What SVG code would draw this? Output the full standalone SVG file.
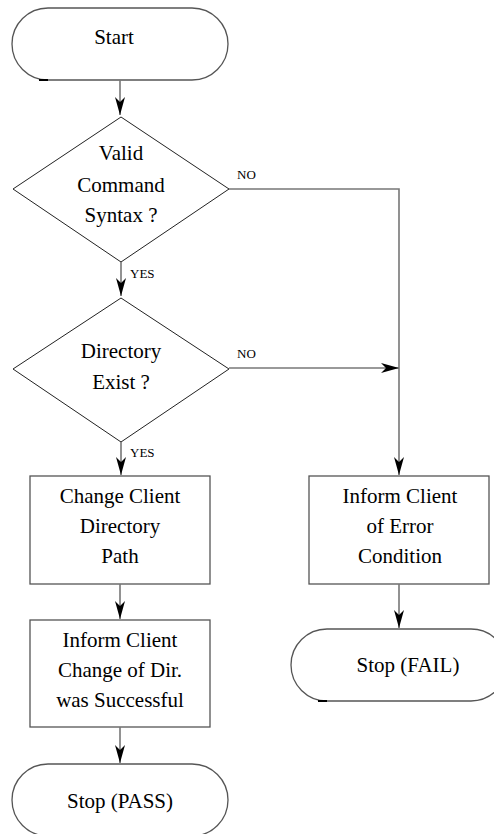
<svg xmlns="http://www.w3.org/2000/svg" width="494" height="834" viewBox="0 0 494 834">
  <style>
    text { font-family: "Liberation Serif", "Times New Roman", serif; fill: #000; text-anchor: middle; }
    .t { font-size: 21px; }
    .lbl { font-size: 13px; text-anchor: start; }
    .term, .box { fill: none; stroke: #555; stroke-width: 1.3; }
    .dec { fill: none; stroke: #222; stroke-width: 1; }
    .conn { fill: none; stroke: #777; stroke-width: 1.6; }
    .nib { stroke: #000; stroke-width: 2; }
  </style>
  <defs>
    <marker id="arrow" markerUnits="userSpaceOnUse" markerWidth="18" markerHeight="10" refX="18" refY="5" orient="auto">
      <path d="M0,0 L18,5 L0,10 L5,5 Z" fill="#000"/>
    </marker>
  </defs>

  <!-- terminators -->
  <g id="start">
    <rect class="term" x="12" y="8" width="216" height="72" rx="36" ry="36"/>
    <line class="nib" x1="39" y1="80" x2="48" y2="80"/>
    <text class="t" x="114" y="44">Start</text>
  </g>

  <g id="valid-syntax">
    <polygon class="dec" points="121,117 229,189 121,262 13,189"/>
    <text class="t" x="121" y="160">Valid</text>
    <text class="t" x="121" y="192">Command</text>
    <text class="t" x="121" y="222">Syntax ?</text>
  </g>

  <g id="dir-exist">
    <polygon class="dec" points="121,298 229,369 121,442 13,369"/>
    <text class="t" x="121" y="358">Directory</text>
    <text class="t" x="121" y="389">Exist ?</text>
  </g>

  <g id="change-dir">
    <rect class="box" x="30" y="476" width="180" height="108"/>
    <text class="t" x="120" y="503">Change Client</text>
    <text class="t" x="120" y="533">Directory</text>
    <text class="t" x="120" y="563">Path</text>
  </g>

  <g id="inform-error">
    <rect class="box" x="309" y="476" width="180" height="108"/>
    <text class="t" x="400" y="503">Inform Client</text>
    <text class="t" x="400" y="533">of Error</text>
    <text class="t" x="400" y="563">Condition</text>
  </g>

  <g id="inform-success">
    <rect class="box" x="30" y="620" width="180" height="107"/>
    <text class="t" x="120" y="647">Inform Client</text>
    <text class="t" x="120" y="677">Change of Dir.</text>
    <text class="t" x="120" y="707">was Successful</text>
  </g>

  <g id="stop-fail">
    <rect class="term" x="291" y="629" width="216" height="72" rx="36" ry="36"/>
    <line class="nib" x1="318" y1="701" x2="327" y2="701"/>
    <text class="t" x="408" y="672">Stop (FAIL)</text>
  </g>

  <g id="stop-pass">
    <rect class="term" x="12" y="764" width="216" height="72" rx="36" ry="36"/>
    <text class="t" x="120" y="808">Stop (PASS)</text>
  </g>

  <!-- connectors -->
  <g id="connectors">
    <line class="conn" x1="120" y1="80" x2="120" y2="115" marker-end="url(#arrow)"/>
    <line class="conn" x1="121" y1="262" x2="121" y2="296" marker-end="url(#arrow)"/>
    <polyline class="conn" points="229,189 399,189 399,475" marker-end="url(#arrow)"/>
    <line class="conn" x1="229" y1="368" x2="399" y2="368" marker-end="url(#arrow)"/>
    <line class="conn" x1="121" y1="442" x2="121" y2="475" marker-end="url(#arrow)"/>
    <line class="conn" x1="120" y1="584" x2="120" y2="619" marker-end="url(#arrow)"/>
    <line class="conn" x1="399" y1="584" x2="399" y2="628" marker-end="url(#arrow)"/>
    <line class="conn" x1="120" y1="727" x2="120" y2="763" marker-end="url(#arrow)"/>
    <text class="lbl" x="237" y="179">NO</text>
    <text class="lbl" x="130" y="278">YES</text>
    <text class="lbl" x="237" y="358">NO</text>
    <text class="lbl" x="130" y="457">YES</text>
  </g>
</svg>
